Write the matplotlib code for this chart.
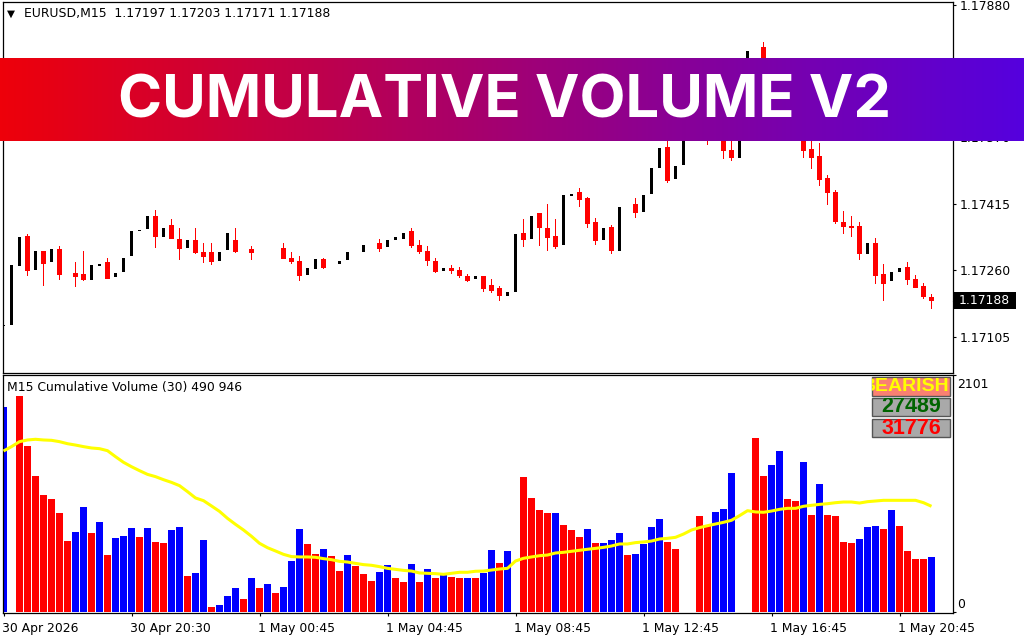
import numpy as np
import matplotlib
matplotlib.use("Agg")
import matplotlib.pyplot as plt
from matplotlib.patches import Rectangle
from matplotlib.transforms import ScaledTranslation

n = float('nan')
opens = [117131,117133,117271,117340,117261,117305,117280,117310,n,117254,117250,117238,117271,117278,117245,117257,117294,117352,117357,117385,
         117338,117364,117333,117312,117329,117301,117303,117282,117308,117331,n,117310,n,n,n,117312,117287,117282,117250,117264,
         117285,n,117275,117285,n,117303,n,117322,117315,117331,117333,117352,117319,117305,117282,117259,117264,117261,117247,117240,
         117247,117224,117217,117201,117210,117347,117333,117392,117359,117340,117319,117434,117441,117429,117371,117331,117361,117305,n,117413,
         117396,117439,117499,117546,117474,117506,117590,117630,117600,117600,117580,117539,117523,117640,n,117779,117700,117660,117630,117610,
         117590,117541,117525,117474,117443,117371,117362,117362,117299,117324,117250,117236,117257,117266,117238,117222,117197]
highs = [117132,117271,117336,117345,117305,117305,117308,117317,n,117278,117305,117271,117275,117287,117252,117287,117350,117354,117385,117399,
         117359,117380,117357,117329,117357,117322,117322,117303,117347,117359,n,117315,n,n,n,117322,117303,117292,117264,117285,
         117289,n,117282,117301,n,117319,n,117333,117329,117336,117347,117357,117329,117317,117287,117264,117271,117266,117250,117247,
         117247,117238,117222,117208,117345,117380,117385,117392,117413,117378,117434,117438,117452,117431,117382,117359,117366,117408,n,117429,
         117436,117497,117544,117560,117502,117620,117640,117650,117640,117630,117590,117570,117600,117770,n,117791,117720,117680,117650,117640,
         117600,117570,117555,117481,117446,117397,117385,117371,117322,117334,117273,117255,117264,117278,117248,117229,117203]
lows = [117131,117133,117271,117247,117261,117224,117280,117238,n,117222,117236,117238,117271,117240,117245,117257,117294,117352,117357,117312,
        117338,117333,117285,117312,117299,117278,117273,117282,117308,117301,n,117285,n,n,n,117287,117275,117236,117250,117264,
        117264,n,117275,117285,n,117303,n,117303,117315,117331,117333,117312,117298,117271,117254,117259,117252,117243,117233,117240,
        117210,117208,117189,117201,117210,117315,117333,117317,117305,117310,117319,117434,117408,117359,117319,117331,117298,117305,n,117382,
        117396,117439,117499,117464,117474,117506,117590,117600,117553,117590,117520,117516,117523,117640,n,117680,117640,117610,117590,117580,
        117523,117497,117457,117413,117369,117345,117338,117285,117299,117229,117189,117236,117257,117227,117220,117194,117171]
closes = [117132,117271,117336,117259,117305,117275,117308,117250,n,117245,117238,117271,117275,117240,117252,117287,117350,117354,117385,117338,
          117359,117333,117310,117329,117301,117292,117280,117303,117347,117303,n,117301,n,n,n,117287,117280,117247,117264,117285,
          117266,n,117282,117301,n,117319,n,117310,117329,117336,117347,117317,117303,117282,117257,117264,117259,117247,117236,117247,
          117217,117212,117201,117208,117345,117331,117385,117359,117336,117315,117434,117438,117424,117368,117329,117359,117305,117408,n,117394,
          117436,117497,117544,117469,117502,117620,117640,117610,117570,117630,117539,117523,117600,117770,n,117700,117660,117630,117600,117590,
          117539,117523,117471,117441,117373,117362,117360,117299,117322,117248,117229,117255,117264,117238,117220,117199,117188]

volume = [1817,0,1915,1472,1206,1037,1002,878,629,709,931,700,798,505,656,674,745,665,745,621,
          612,727,754,319,346,638,44,62,142,213,115,301,213,248,168,222,452,736,603,514,
          559,496,363,505,408,337,275,355,417,301,266,426,266,381,301,328,310,301,301,301,
          346,550,434,541,0,1197,1011,904,878,878,771,727,665,736,612,612,638,700,505,514,
          603,754,824,621,559,0,0,851,771,887,913,1232,0,0,1543,1206,1303,1427,1002,984,
          1330,860,1135,860,851,621,612,647,754,762,736,904,762,541,470,470,488]
vol_side = ("b b r r r r r r r b b r b r b b b r b r "
            "r b b r b b r b b b r b r b r b b b r r "
            "b r r b r r r b b r r b r b r b r r b r "
            "b b r b b r r r r b r r r b r b b b r b "
            "b b b r r b b r r b b b b b r r b b r r "
            "b r b r r r r b b b r b r r r r b").split()
vol_ma = [1427,1466,1510,1525,1531,1525,1522,1510,1492,1480,1466,1454,1448,1430,1377,1327,1288,1253,1220,1200,
          1173,1149,1120,1067,1011,987,940,892,830,777,727,671,609,570,541,511,491,488,488,485,
          473,464,449,443,431,420,414,402,387,378,369,363,346,343,340,334,343,352,352,361,
          363,372,381,387,452,476,488,499,505,523,529,538,547,556,564,573,585,603,603,615,
          621,629,647,653,662,691,727,748,765,780,795,813,854,898,887,884,895,910,919,919,
          937,946,954,960,969,975,975,966,978,984,990,990,990,990,990,969,937]

price_ticks = [1.17880, 1.17725, 1.17570, 1.17415, 1.17260, 1.17105]
time_labels = ["30 Apr 2026", "30 Apr 20:30", "1 May 00:45", "1 May 04:45",
               "1 May 08:45", "1 May 12:45", "1 May 16:45", "1 May 20:45"]
last_price = 1.17188
title_text = "CUMULATIVE VOLUME V2"

W, H = 1024, 640
FS = 8.9
plt.rcParams['font.family'] = "DejaVu Sans"

def axes_px(x0, y0, x1, y1, **kw):
    return fig.add_axes([x0 / W, 1 - y1 / H, (x1 - x0) / W, (y1 - y0) / H], **kw)

fig = plt.figure(figsize=(W / 100, H / 100), dpi=100, facecolor='white')
xlim = (-0.125, 118.625)

# ---- price pane
ax = axes_px(2.5, 1.5, 952.5, 372.5)
ax.set_xlim(*xlim)
ax.set_ylim(1.17022, 1.17887)
O, Hi, L, C = [np.array(a, float) / 1e5 for a in (opens, highs, lows, closes)]
idx = np.arange(len(O))
up = C >= O
for mask, col, wid in ((up, '#000000', 0.375), (~up, '#ff0000', 0.625)):
    ax.bar(idx[mask], (Hi - L)[mask] + 0.00001, bottom=L[mask], width=0.125,
           color=col, lw=0, antialiased=False, zorder=2)
    ax.bar(idx[mask], np.abs(C - O)[mask] + 0.00001, bottom=np.minimum(O, C)[mask], width=wid,
           color=col, lw=0, antialiased=False, zorder=3)
ax.set_xticks([])
ax.yaxis.tick_right()
ax.set_yticks(price_ticks)
ax.set_yticklabels([f"{t:.5f}" for t in price_ticks], fontsize=FS, color='black')
ax.tick_params(axis='y', length=2.5, width=0.8, pad=3)
for s in ax.spines.values():
    s.set_linewidth(0.9)

fig.add_artist(Rectangle((954 / W, 1 - 309 / H), 62 / W, 17 / H, transform=fig.transFigure,
                         fc='black', ec='none', zorder=5))
fig.text(959 / W, 1 - 300.5 / H, f"{last_price:.5f}", color='white', fontsize=FS, va='center', ha='left', zorder=6)
ax.plot([1.0, 1.003], [last_price, last_price], transform=ax.get_yaxis_transform(),
        color='black', lw=0.8, clip_on=False)

fig.text(7 / W, 1 - 14 / H, "\u25BC", fontsize=7.5, color='black', va='center', ha='left')
fig.text(24 / W, 1 - 14 / H, "EURUSD,M15  1.17197 1.17203 1.17171 1.17188", fontsize=FS, va='center', ha='left')

# ---- volume pane
axv = axes_px(2.5, 375, 952.5, 613)
axv.set_xlim(*xlim)
axv.set_ylim(-8.9, 2101)
vidx = np.arange(len(volume))
vcol = ['#0000ff' if s == 'b' else '#ff0000' for s in vol_side]
axv.bar(vidx, volume, width=0.875, color=vcol, lw=0, antialiased=False, zorder=2)
axv.plot(vidx, vol_ma, color='#ffff00', lw=2.2, zorder=3, solid_capstyle='butt')
axv.yaxis.tick_right()
axv.set_yticks([0, 2101])
axv.set_yticklabels([])
axv.set_xticks(np.arange(0, 117, 16))
axv.set_xticklabels(time_labels, fontsize=FS, ha='left')
axv.tick_params(axis='x', length=2.5, width=0.8, pad=4)
axv.tick_params(axis='y', length=2.5, width=0.8)
shift = ScaledTranslation(-2 / 100, 0, fig.dpi_scale_trans)
for lab in axv.get_xticklabels():
    lab.set_transform(lab.get_transform() + shift)
for s in axv.spines.values():
    s.set_linewidth(0.9)

fig.text(957 / W, 1 - 385 / H, "2101", fontsize=FS, va='center', ha='left')
fig.text(957 / W, 1 - 604 / H, "0", fontsize=FS, va='center', ha='left')
fig.text(7 / W, 1 - 387 / H, "M15 Cumulative Volume (30) 490 946", fontsize=FS, va='center', ha='left')

def status_box(y0, y1, face, text, colour, size, right=False):
    r = Rectangle((871.5 / W, 1 - y1 / H), 78.5 / W, (y1 - y0) / H, transform=fig.transFigure,
                  fc=face, ec='#555555', lw=1, zorder=6)
    fig.add_artist(r)
    xpos, ha = (949.5, 'right') if right else (911, 'center')
    t = fig.text(xpos / W, 1 - (y0 + y1) / 2 / H, text, color=colour, fontsize=size, fontweight='bold',
                 family='Liberation Sans', va='center', ha=ha, zorder=7)
    t.set_clip_on(True)
    t.set_clip_path(r)

status_box(377, 395.5, '#fa8072', "BEARISH", '#ffff00', 14, right=True)
status_box(398, 416, '#a9a9a9', "27489", '#006400', 15.5)
status_box(419, 437, '#a9a9a9', "31776", '#ff0000', 15.5)

# ---- banner
axb = axes_px(0, 58, 1024, 141, zorder=10)
left, right = np.array([238, 0, 10]) / 255, np.array([85, 0, 222]) / 255
t = np.linspace(0, 1, 512)[None, :, None]
axb.imshow(left[None, None, :] * (1 - t) + right[None, None, :] * t, aspect='auto', extent=(0, 1, 0, 1))
axb.axis('off')
axb.text(0.4925, 0.47, title_text, color='white', fontsize=43, fontweight='bold', family='Inter',
         ha='center', va='center', transform=axb.transAxes)

fig.savefig("out.png", dpi=100, facecolor='white')
